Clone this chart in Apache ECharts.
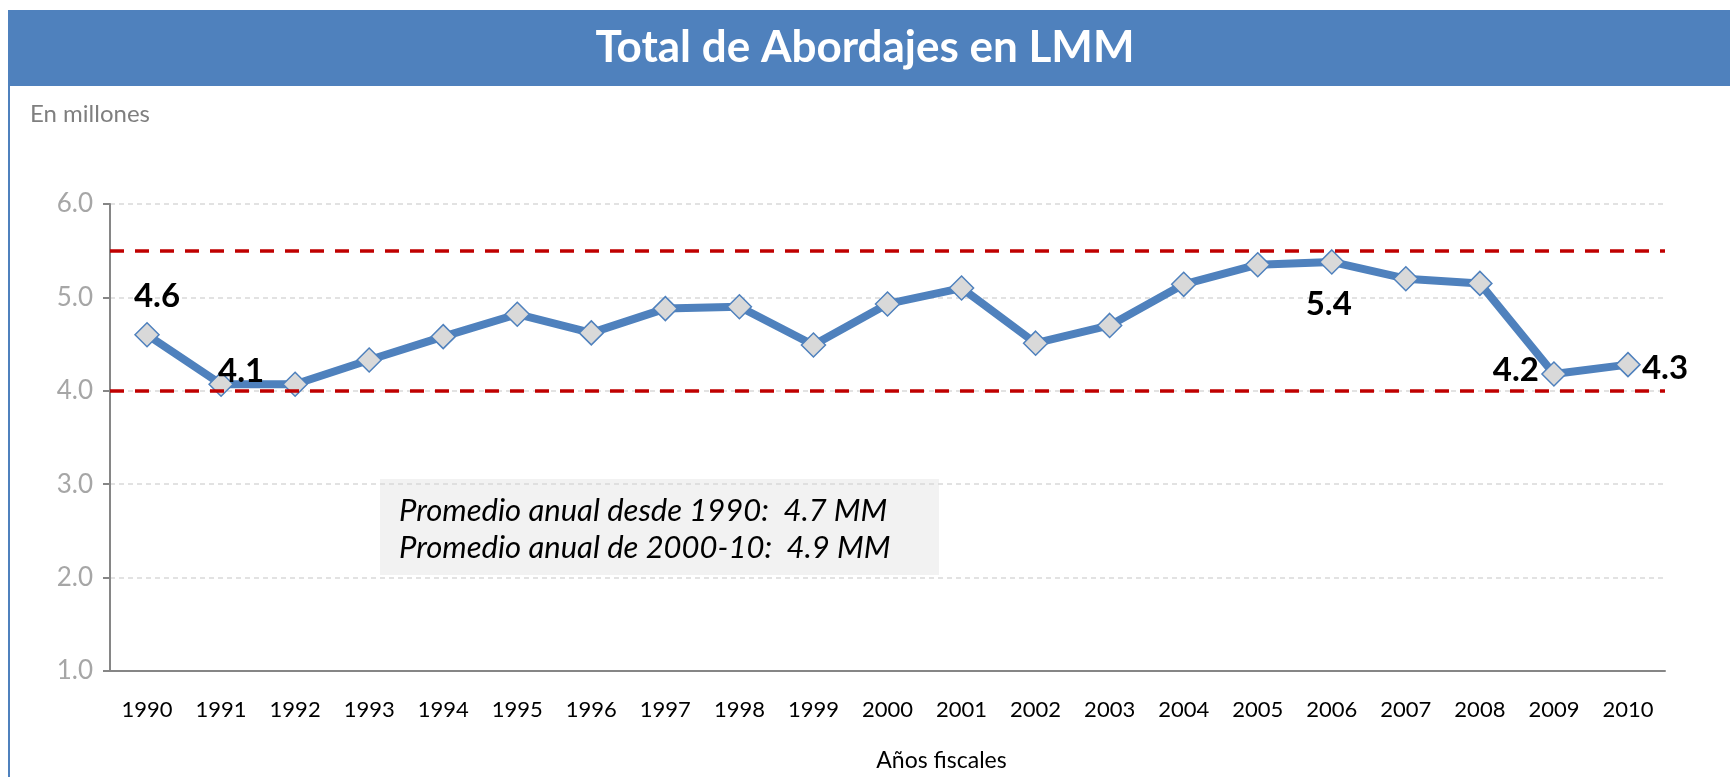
<!DOCTYPE html>
<html>
<head>
<meta charset="utf-8">
<script src="https://cdn.jsdelivr.net/npm/echarts@6/dist/echarts.min.js"></script>
<style>
  html, body { margin: 0; padding: 0; background: #fff; }
  #chart { width: 1730px; height: 777px; }
</style>
</head>
<body>
<div id="chart"></div>
<script>
// datos del gráfico
var years = ["1990", "1991", "1992", "1993", "1994", "1995", "1996", "1997", "1998", "1999", "2000",
  "2001", "2002", "2003", "2004", "2005", "2006", "2007", "2008", "2009", "2010"];
var abordajes = [4.60, 4.07, 4.07, 4.33, 4.58, 4.82, 4.62, 4.88, 4.90, 4.49, 4.93,
  5.10, 4.51, 4.70, 5.14, 5.35, 5.38, 5.20, 5.15, 4.18, 4.28];
var limites = [5.5, 4.0];
var yTicks = [1, 2, 3, 4, 5, 6];
var notas = ["Promedio anual desde 1990:  4.7 MM", "Promedio anual de 2000-10:  4.9 MM"];

// etiquetas visibles (índice -> desplazamiento)
var etiquetas = {
  0: [10, -38],
  1: [20, -13],
  16: [-3, 42],
  19: [-38, -4],
  20: [37, 4]
};

var font = "Lato, 'Open Sans', sans-serif";

var seriesData = abordajes.map(function (v, i) {
  var item = { value: v };
  if (etiquetas[i]) {
    item.label = {
      show: true,
      position: "inside",
      offset: etiquetas[i],
      formatter: function (p) { return p.value.toFixed(1); },
      color: "#000",
      fontSize: 33,
      fontWeight: "bold",
      fontFamily: font
    };
  }
  return item;
});

var myChart = echarts.init(document.getElementById("chart"));
var option = {
  animation: false,
  backgroundColor: "#fff",
  title: {
    text: "Total de Abordajes en LMM",
    left: "center",
    top: 21,
    textStyle: { color: "#fff", fontSize: 44, fontWeight: "bold", fontFamily: font }
  },
  graphic: [
    { type: "rect", z: -1, shape: { x: 8, y: 10, width: 1722, height: 76 }, style: { fill: "#4f81bd" } },
    { type: "rect", z: -1, shape: { x: 8, y: 86, width: 2, height: 691 }, style: { fill: "#4f81bd" } },
    {
      type: "text", left: 30, top: 102,
      style: { text: "En millones", fill: "#7f7f7f", fontSize: 24, fontFamily: font }
    },
    {
      type: "group", left: 380, top: 479,
      children: [
        { type: "rect", shape: { x: 0, y: 0, width: 559, height: 96 }, style: { fill: "#f2f2f2" } },
        {
          type: "text", x: 19, y: 13,
          style: { text: notas.join("\n"), fill: "#000", fontSize: 31, lineHeight: 37,
            fontStyle: "italic", fontFamily: font }
        }
      ]
    }
  ],
  grid: { left: 110, right: 65, top: 204, bottom: 105 },
  xAxis: {
    type: "category",
    data: years,
    name: "Años fiscales",
    nameLocation: "middle",
    nameGap: 78,
    nameTextStyle: { color: "#000", fontSize: 23, fontFamily: font, padding: [0, 0, 0, 108] },
    axisLine: { lineStyle: { color: "#868686", width: 2 } },
    axisTick: { show: false },
    axisLabel: { color: "#000", fontSize: 22, fontFamily: font, margin: 28 }
  },
  yAxis: {
    type: "value",
    min: yTicks[0],
    max: yTicks[yTicks.length - 1],
    interval: 1,
    axisLine: { show: true, lineStyle: { color: "#868686", width: 2 } },
    axisTick: { show: true, length: 7, lineStyle: { color: "#868686", width: 2 } },
    axisLabel: {
      color: "#a6a6a6", fontSize: 26, fontFamily: font, margin: 17,
      formatter: function (v) { return v.toFixed(1); }
    },
    splitLine: { lineStyle: { color: "#d9d9d9", type: [5, 4], width: 1.5 } }
  },
  series: [
    {
      type: "line",
      data: seriesData,
      symbol: "diamond",
      symbolSize: 24,
      lineStyle: { color: "#4f81bd", width: 8 },
      itemStyle: { color: "#d9d9d9", borderColor: "#4f81bd", borderWidth: 1.5 },
      markLine: {
        silent: true,
        symbol: "none",
        label: { show: false },
        lineStyle: { color: "#c00000", type: [14, 11], width: 3.5 },
        data: limites.map(function (v) { return { yAxis: v }; })
      },
      z: 3
    }
  ]
};
myChart.setOption(option);
</script>
</body>
</html>
